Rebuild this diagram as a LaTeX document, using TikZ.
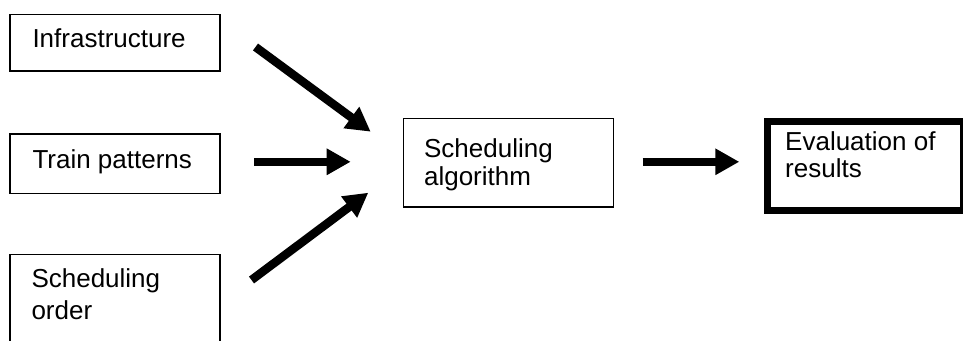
\documentclass[tikz,border=0pt]{standalone}
\usepackage{fontspec}
\setmainfont{Liberation Sans}
\usepackage{tikz}
\usetikzlibrary{arrows.meta, positioning}

\begin{document}
\begin{tikzpicture}[
    x=1pt, y=-1pt,
    box/.style={rectangle, draw=black, line width=1.6pt, anchor=north west, inner ysep=0pt, align=left, font=\fontsize{26}{28.3}\selectfont},
    finalbox/.style={box, line width=7pt},
    arrow/.style={-{Triangle[length=24pt, width=25pt]}, line width=8.5pt},
]
\clip (0,0) rectangle (963,340);

% Input boxes
\node[box, inner xsep=22.7pt, text height=33.2pt, text depth=23.3pt] (infra) at (9,13.5)
    {\parbox[t]{165pt}{Infrastructure}};
\node[box, inner xsep=22.7pt, text height=34.7pt, text depth=24.8pt] (train) at (9,133)
    {\parbox[t]{165pt}{Train patterns}};
\node[box, inner xsep=21.7pt, text height=33.2pt, text depth=80pt] (order) at (9,253.5)
    {\parbox[t]{167pt}{\raggedright Scheduling\\[3.2pt]order}};

% Algorithm and results
\node[box, inner xsep=20.8pt, text height=38.9pt, text depth=49.5pt] (algo) at (402.5,117.8)
    {\parbox[t]{168.4pt}{\raggedright Scheduling\\algorithm}};
\node[finalbox, inner xsep=18.2pt, text height=29.2pt, text depth=60.3pt] (eval) at (763.5,117.5)
    {\parbox[t]{159.6pt}{\raggedright Evaluation of\\[-1pt]results}};

% Arrow ends
\coordinate (infraout) at (255.5,47);
\coordinate (infrain) at (370.7,131.7);
\coordinate (trainout) at (254,161.8);
\coordinate (trainin) at (350.7,161.8);
\coordinate (orderout) at (251.5,280);
\coordinate (orderin) at (368.3,192.7);
\coordinate (algoout) at (642.7,161.8);
\coordinate (evalin) at (739.3,161.8);

% Arrows
\draw[arrow] (infraout) -- (infrain);
\draw[arrow] (trainout) -- (trainin);
\draw[arrow] (orderout) -- (orderin);
\draw[arrow] (algoout) -- (evalin);

\end{tikzpicture}
\end{document}
